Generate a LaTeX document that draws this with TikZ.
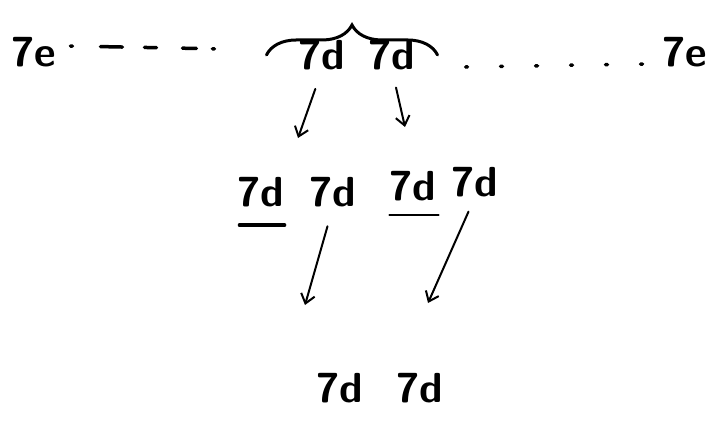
\documentclass[tikz,border=0pt]{standalone}
\usepackage{tikz}
\usetikzlibrary{calc}
\usetikzlibrary{arrows.meta}
\usetikzlibrary{decorations.pathreplacing}

\begin{document}
\begin{tikzpicture}[
  x=1pt, y=-1pt,
  cell/.style={
    inner sep=0pt, font=\sffamily\bfseries\fontsize{42}{46}\selectfont},
  arr/.style={-{Straight Barb[length=9pt,width=14pt]}, line width=2pt,
    line cap=round},
  stroke/.style={line width=3.5pt, line cap=round},
]
  \useasboundingbox (0,0) rectangle (718,423);

  % ── Top row ─────────────────────────────────────────────────────────────
  \node[cell] (eL) at (34,52)  {7e};
  \node[cell] (dA) at (322,55) {7d};
  \node[cell] (dB) at (392,55) {7d};
  \node[cell] (eR) at (685,52) {7e};

  % ── Middle row ──────────────────────────────────────────────────────────
  \node[cell] (mA) at (261,192) {7d};
  \node[cell] (mB) at (333,192) {7d};
  \node[cell] (mC) at (413,186) {7d};
  \node[cell] (mD) at (475,182) {7d};

  % ── Bottom row ──────────────────────────────────────────────────────────
  \node[cell] (bA) at (340,388) {7d};
  \node[cell] (bB) at (420,388) {7d};

  % ── Chain of cells on either side ───────────────────────────────────────
  \draw[stroke, dash pattern=on 2pt off 28pt on 22pt off 22pt on 12pt off 26pt on 14pt off 16pt on 2pt off 40pt]
      ($(eL.east)+(14,-6)$) -- ($(dA.west)+(-75,-6)$);
  \draw[stroke, dash pattern=on 2pt off 33pt]
      ($(dB.east)+(50,12)$) -- ($(eR.west)+(-20,12)$);

  % ── Brace over the pair ─────────────────────────────────────────────────
  \draw[stroke, line width=3pt, decorate, decoration={brace, amplitude=30pt}]
      ($(dA.north west)+(-32,15)$) -- ($(dB.north east)+(22,15)$);

  % ── Arrows: top pair -> middle row ──────────────────────────────────────
  \coordinate (tipA) at (298,138);
  \coordinate (tipB) at (405,127);
  \draw[arr, shorten <=20pt] (dA.south) -- (tipA);
  \draw[arr, shorten <=18pt] (dB.south) -- (tipB);

  % ── Underlines in the middle row ────────────────────────────────────────
  \draw[stroke] ($(mA.south west)+(2,18)$) -- ($(mA.south east)+(0,18)$);
  \draw[stroke, line width=2pt] ($(mC.south west)+(0,14)$) -- ($(mC.south east)+(2,14)$);

  % ── Arrows: middle row -> bottom row ────────────────────────────────────
  \coordinate (tipC) at (305,305);
  \coordinate (tipD) at (428,303);
  \draw[arr, shorten <=20pt] (mB.south) -- (tipC);
  \draw[arr, shorten <=16pt] (mD.south) -- (tipD);

\end{tikzpicture}
\end{document}
